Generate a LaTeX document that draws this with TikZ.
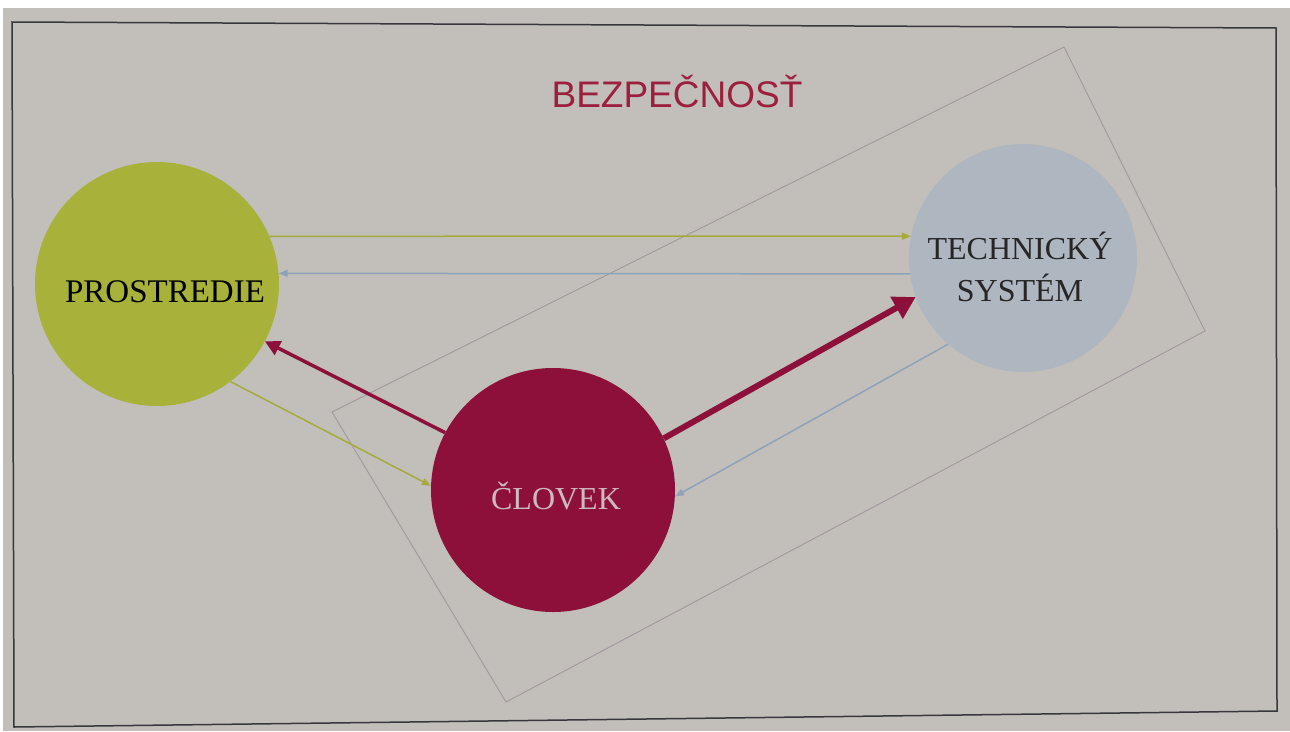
\documentclass[tikz,border=0pt]{standalone}
\usepackage{fontspec}
\setmainfont{Liberation Serif}
\newfontfamily\titlefont{Liberation Sans}
\usetikzlibrary{arrows.meta}
\definecolor{bgc}{RGB}{194,191,186}
\definecolor{framec}{RGB}{55,55,60}
\definecolor{rectc}{RGB}{160,152,156}
\definecolor{greenc}{RGB}{168,178,58}
\definecolor{techc}{RGB}{174,182,192}
\definecolor{crimc}{RGB}{140,16,58}
\definecolor{titlec}{RGB}{156,32,62}
\definecolor{olivec}{RGB}{165,170,62}
\definecolor{bluec}{RGB}{142,162,186}
\definecolor{lightc}{RGB}{205,185,192}
\tikzset{
  circ/.style={circle, draw=none, inner sep=0pt},
  lbl/.style={font=\fontsize{33}{42}\selectfont, align=center},
  thinolive/.style={draw=olivec, line width=1.5pt, -{Triangle[length=9pt,width=7pt]}},
  thinblue/.style={draw=bluec, line width=1.5pt, -{Triangle[length=9pt,width=7pt]}},
  crimthick/.style={draw=crimc, line width=6pt, -{Triangle[length=22pt,width=24pt]}},
  crimmid/.style={draw=crimc, line width=3.5pt, -{Triangle[length=15pt,width=15pt]}},
}
\begin{document}
\begin{tikzpicture}[x=1pt,y=-1pt]
\useasboundingbox (0,0) rectangle (1290,731);
\fill[bgc] (0,0) rectangle (1290,731);
\fill[white] (0,0) rectangle (1290,8);
\fill[white] (0,0) rectangle (3,731);
% outer frame
\coordinate (f1) at (12,22);
\coordinate (f2) at (1276,28);
\coordinate (f3) at (1277,711);
\coordinate (f4) at (14,727);
\draw[framec, line width=1.5pt] (f1) -- (f2) -- (f3) -- (f4) -- cycle;
% rotated rectangle
\coordinate (rL) at (332,412);
\coordinate (rT) at (1064,47);
\coordinate (rR) at (1205,331);
\coordinate (rB) at (506,702);
\draw[rectc, line width=0.9pt] (rL) -- (rT) -- (rR) -- (rB) -- cycle;
% title
\node[font=\titlefont\fontsize{37}{40}\selectfont, text=titlec] (title) at (677,92) {BEZPEČNOSŤ};
% circles
\node[circ, fill=greenc, minimum size=244pt,
  label={[lbl, text=black, xshift=8pt, yshift=-8pt]center:PROSTREDIE}] (pro) at (157,284) {};
\node[circ, fill=techc, minimum size=228pt,
  label={[lbl, text=black!85, font=\fontsize{32}{42}\selectfont, xshift=-3pt, yshift=-9pt]center:TECHNICKÝ\\SYSTÉM}] (tech) at (1023,258) {};
\node[circ, fill=crimc, minimum size=244pt,
  label={[lbl, text=lightc, font=\fontsize{32}{40}\selectfont, xshift=3pt, yshift=-6pt]center:ČLOVEK}] (clo) at (553,490) {};
% connectors
\draw[thinolive] (pro.23) -- (tech.169);
\draw[thinblue] (tech.188) -- (pro.5);
\draw[crimthick] (clo.25) -- (tech.200);
\draw[crimmid] (clo.152) -- (pro.332);
\draw[thinolive] (pro.307) -- (clo.178);
\draw[thinblue] (tech.229) -- (clo.357);
\end{tikzpicture}
\end{document}
